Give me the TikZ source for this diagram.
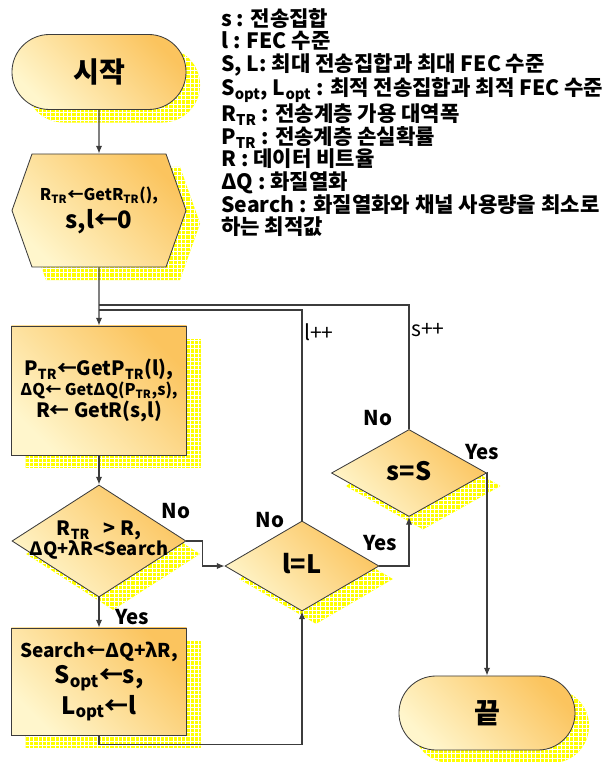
\documentclass[tikz,border=0pt]{standalone}
\usepackage{fontspec}
\setmainfont{Noto Sans CJK KR}
\usetikzlibrary{shapes.geometric,shapes.misc,shapes.symbols,shadows,patterns,arrows.meta}

\definecolor{palegold}{HTML}{FFF6CC}
\definecolor{deepgold}{HTML}{FBC45E}
\definecolor{shadowyellow}{HTML}{FFFF00}
\definecolor{edgegray}{HTML}{3C3C3C}

\newcommand{\fsize}[2]{\fontsize{#1pt}{#2pt}\selectfont}
\newcommand{\idx}[1]{\textsubscript{#1}}
\newcommand{\nowidth}[1]{\makebox[0pt]{\begin{tabular}{@{}c@{}}#1\end{tabular}}}

\tikzset{
  yshadow/.style={
    general shadow={shadow xshift=0.35cm, shadow yshift=-0.325cm, fill=shadowyellow},
    general shadow={shadow xshift=0.35cm, shadow yshift=-0.325cm, pattern=grid, pattern color=white}},
  goldfill/.style={yshadow, draw=edgegray, line width=0.6pt, top color=deepgold,
    bottom color=palegold, shading angle=-45, font=\bfseries, inner sep=0pt, align=center},
  terminal/.style={goldfill, rounded rectangle, minimum width=4.35cm, minimum height=1.875cm},
  prep/.style={goldfill, signal, signal to=west and east, signal pointer angle=141,
    minimum width=4.35cm, minimum height=2.825cm},
  proc/.style={goldfill, rectangle, minimum width=4.375cm},
  cond/.style={goldfill, diamond},
  flow/.style={draw=edgegray, line width=0.8pt, -{Latex[length=5.5pt,width=4.5pt]}},
  loop/.style={draw=edgegray, line width=0.8pt},
  tag/.style={font=\fsize{14.5}{17}\bfseries, inner sep=0pt},
  step tag/.style={font=\fsize{15}{17}, inner sep=0pt, anchor=west}
}

\begin{document}
\begin{tikzpicture}[x=0.025cm, y=-0.025cm]
\useasboundingbox (0,0) rectangle (616,762);

% legend
\node[anchor=north west, inner sep=0pt, align=left, font=\fsize{15}{16.1}\bfseries] (legend) at (221,8) {
  s : 전송집합\\
  l : FEC 수준\\
  S, L: 최대 전송집합과 최대 FEC 수준\\
  S\idx{opt}, L\idx{opt} : 최적 전송집합과 최적 FEC 수준\\
  R\idx{TR} : 전송계층 가용 대역폭\\
  P\idx{TR} : 전송계층 손실확률\\
  R : 데이터 비트율\\
  ΔQ : 화질열화\\
  Search : 화질열화와 채널 사용량을 최소로\\
  하는 최적값};

% blocks
\node[terminal] (start) at (99,72) {\fsize{20}{24}시작};
\node[prep] (init) at (99,210.5) {{\fsize{11.5}{14}R\idx{TR}←GetR\idx{TR}(),}\\[3pt]{\fsize{17}{20}s,l←0}};
\node[proc, minimum height=3.225cm] (calc) at (99,390.5) {{\fsize{14}{17}P\idx{TR}←GetP\idx{TR}(l),}\\
  {\fsize{11.5}{14}ΔQ← GetΔQ(P\idx{TR},s),}\\{\fsize{14}{17}R← GetR(s,l)}};
\node[cond, minimum width=4.35cm, minimum height=2.8cm] (check) at (99,541)
  {\nowidth{\fsize{14}{18}R\idx{TR}\ \ \ > R,\\ \fsize{13}{18}ΔQ+λR<Search}};
\node[proc, minimum height=2.675cm] (best) at (99,681.5) {{\fsize{13.5}{16}Search←ΔQ+λR,}\\[2pt]
  {\fsize{17}{20}S\idx{opt}←s,}\\[2pt]{\fsize{17}{20}L\idx{opt}←l}};
\node[cond, minimum width=3.85cm, minimum height=2.25cm] (lmax) at (302,566) {\nowidth{\fsize{18}{20}l=L}};
\node[cond, minimum width=3.875cm, minimum height=2.175cm] (smax) at (409,473) {\nowidth{\fsize{18}{20}s=S}};
\node[terminal, minimum width=4.4cm, minimum height=1.85cm] (stop) at (487,713) {\fsize{20}{24}끝};

% joins of the loops
\coordinate (ljoin) at (99,310);
\coordinate (sjoin) at (99,305);

% connectors
\draw[flow] (start) -- (init);
\draw[flow] (init) -- (calc);
\draw[flow] (calc) -- (check);
\draw[flow] (check) -- (best);
\draw[flow] (check.east) -- ++(16,0) |- (lmax.west);
\draw[flow] (best.south) -- ++(0,9) -| (lmax.south);
\draw[loop] (lmax.north) |- (ljoin);
\draw[flow] (lmax.east) -| (smax.south);
\draw[loop] (smax.north) |- (sjoin);
\draw[flow] (smax.east) -| (stop.north);

% labels
\node[tag] (checkno) at (176,511) {No};
\node[tag] (checkyes) at (132,617) {Yes};
\node[tag] (lmaxno) at (270,520) {No};
\node[tag] (lmaxyes) at (380,543) {Yes};
\node[tag] (smaxno) at (378,418) {No};
\node[tag] (smaxyes) at (482,452) {Yes};
\node[step tag] (lnext) at (304,332) {l++};
\node[step tag] (snext) at (411,330) {s++};
\end{tikzpicture}
\end{document}
